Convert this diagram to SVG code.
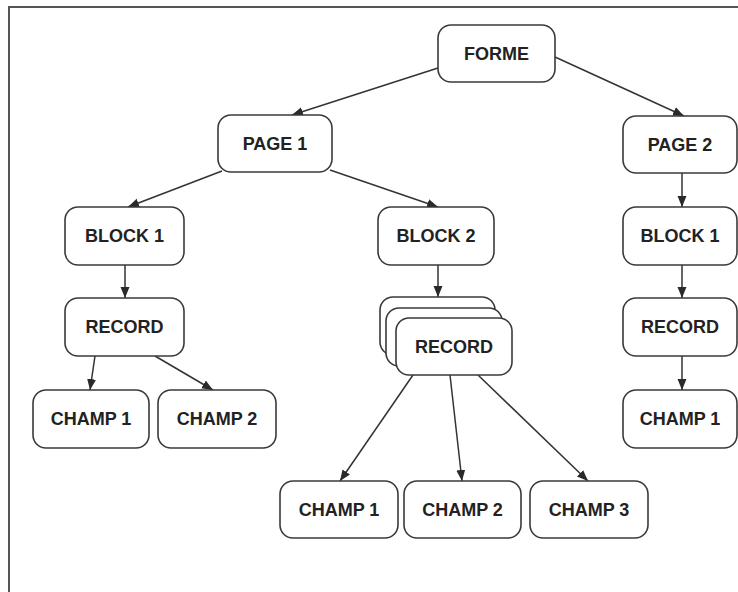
<svg xmlns="http://www.w3.org/2000/svg" width="738" height="592" viewBox="0 0 738 592">
  <style>
    .box { fill: #ffffff; stroke: #3a3a3a; stroke-width: 1.6; }
    .lbl { font-family: "Liberation Sans", Arial, sans-serif; font-weight: bold; font-size: 18px; fill: #222222; text-anchor: middle; dominant-baseline: central; }
    .edge { stroke: #333333; stroke-width: 1.5; fill: none; marker-end: url(#arrow); }
    .frame { stroke: #555555; stroke-width: 2; fill: none; }
  </style>
  <defs>
    <marker id="arrow" markerUnits="userSpaceOnUse" markerWidth="12" markerHeight="12" viewBox="0 0 12 12" refX="11" refY="6" orient="auto">
      <path d="M0,1.5 L11,6 L0,10.5 Z" fill="#2a2a2a"/>
    </marker>
  </defs>
  <rect width="738" height="592" fill="#ffffff"/>

  <!-- page frame (left and top edges) -->
  <path class="frame" d="M9,592 L9,7 L738,7"/>

  <!-- connectors -->
  <g id="connectors">
    <line class="edge" x1="438" y1="68" x2="292" y2="115"/>
    <line class="edge" x1="555" y1="57" x2="684" y2="116"/>
    <line class="edge" x1="222" y1="171" x2="128" y2="207"/>
    <line class="edge" x1="330" y1="170" x2="438" y2="207"/>
    <line class="edge" x1="682" y1="173" x2="682" y2="207"/>
    <line class="edge" x1="682" y1="265" x2="682" y2="298"/>
    <line class="edge" x1="682" y1="356" x2="682" y2="390"/>
    <line class="edge" x1="125" y1="265" x2="125" y2="298"/>
    <line class="edge" x1="95" y1="356" x2="90" y2="390"/>
    <line class="edge" x1="155" y1="356" x2="213" y2="390"/>
    <line class="edge" x1="438" y1="265" x2="438" y2="297"/>
    <line class="edge" x1="413" y1="375" x2="340" y2="481"/>
    <line class="edge" x1="450" y1="375" x2="462" y2="481"/>
    <line class="edge" x1="478" y1="375" x2="588" y2="481"/>
  </g>

  <g id="forme">
    <rect class="box" x="438" y="25" width="117" height="57" rx="13"/>
    <text class="lbl" x="496.5" y="53.5">FORME</text>
  </g>
  <g id="page1">
    <rect class="box" x="218" y="115" width="114" height="57" rx="13"/>
    <text class="lbl" x="275" y="143.5">PAGE 1</text>
  </g>
  <g id="page2">
    <rect class="box" x="623" y="116" width="114" height="57" rx="13"/>
    <text class="lbl" x="680" y="144.5">PAGE 2</text>
  </g>
  <g id="p1-block1">
    <rect class="box" x="65" y="207" width="119" height="58" rx="13"/>
    <text class="lbl" x="124.5" y="236">BLOCK 1</text>
  </g>
  <g id="p1-block2">
    <rect class="box" x="378" y="207" width="116" height="58" rx="13"/>
    <text class="lbl" x="436" y="236">BLOCK 2</text>
  </g>
  <g id="p2-block1">
    <rect class="box" x="623" y="207" width="114" height="58" rx="13"/>
    <text class="lbl" x="680" y="236">BLOCK 1</text>
  </g>
  <g id="b1-record">
    <rect class="box" x="65" y="298" width="119" height="58" rx="13"/>
    <text class="lbl" x="124.5" y="327">RECORD</text>
  </g>
  <g id="b2-records">
    <rect class="box" x="380" y="297" width="115" height="58" rx="13"/>
    <rect class="box" x="386" y="308" width="116" height="58" rx="13"/>
    <rect class="box" x="396" y="318" width="116" height="57" rx="13"/>
    <text class="lbl" x="454" y="346.5">RECORD</text>
  </g>
  <g id="p2-record">
    <rect class="box" x="623" y="298" width="114" height="58" rx="13"/>
    <text class="lbl" x="680" y="327">RECORD</text>
  </g>
  <g id="b1-champ1">
    <rect class="box" x="33" y="390" width="116" height="58" rx="13"/>
    <text class="lbl" x="91" y="419">CHAMP 1</text>
  </g>
  <g id="b1-champ2">
    <rect class="box" x="158" y="390" width="118" height="58" rx="13"/>
    <text class="lbl" x="217" y="419">CHAMP 2</text>
  </g>
  <g id="p2-champ1">
    <rect class="box" x="623" y="390" width="114" height="58" rx="13"/>
    <text class="lbl" x="680" y="419">CHAMP 1</text>
  </g>
  <g id="b2-champ1">
    <rect class="box" x="280" y="481" width="118" height="57" rx="13"/>
    <text class="lbl" x="339" y="509.5">CHAMP 1</text>
  </g>
  <g id="b2-champ2">
    <rect class="box" x="404" y="481" width="117" height="57" rx="13"/>
    <text class="lbl" x="462.5" y="509.5">CHAMP 2</text>
  </g>
  <g id="b2-champ3">
    <rect class="box" x="530" y="481" width="118" height="57" rx="13"/>
    <text class="lbl" x="589" y="509.5">CHAMP 3</text>
  </g>
</svg>
